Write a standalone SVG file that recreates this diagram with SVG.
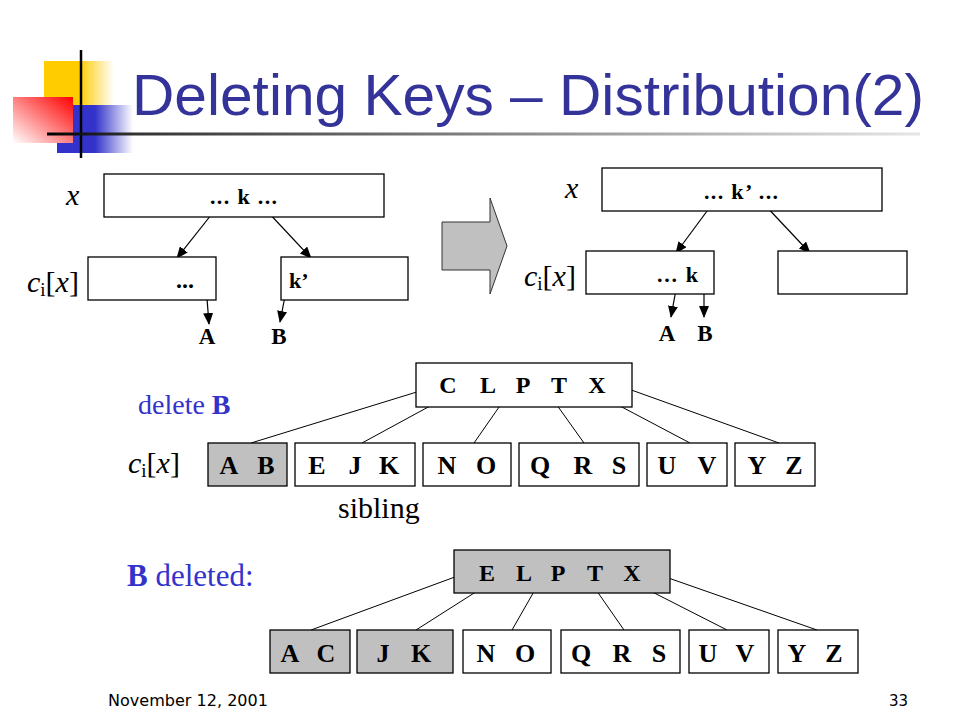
<svg xmlns="http://www.w3.org/2000/svg" width="960" height="720" viewBox="0 0 960 720">
<defs>
<linearGradient id="gY" x1="0" y1="0" x2="1" y2="0"><stop offset="0" stop-color="#FFCC00"/><stop offset="0.5" stop-color="#FFCC00"/><stop offset="1" stop-color="#FFFFFF"/></linearGradient>
<linearGradient id="gB" x1="0" y1="0" x2="1" y2="0"><stop offset="0" stop-color="#3333CC"/><stop offset="0.5" stop-color="#3333CC"/><stop offset="1" stop-color="#FFFFFF"/></linearGradient>
<linearGradient id="gR" x1="1" y1="0" x2="0" y2="1"><stop offset="0" stop-color="#FF0000"/><stop offset="1" stop-color="#FFFFFF"/></linearGradient>
<linearGradient id="gL" gradientUnits="userSpaceOnUse" x1="47" y1="0" x2="920" y2="0"><stop offset="0" stop-color="#000000"/><stop offset="0.1" stop-color="#333333"/><stop offset="1" stop-color="#E6E6E6"/></linearGradient>
<marker id="ah" markerUnits="userSpaceOnUse" markerWidth="12" markerHeight="10" refX="11" refY="5" orient="auto"><path d="M0,0 L12,5 L0,10 z" fill="#000"/></marker>
</defs>
<style>
.box{fill:#fff;stroke:#000;stroke-width:1.3}
.gbox{fill:#C0C0C0;stroke:#000;stroke-width:1.3}
.arr{stroke:#000;stroke-width:1.2;fill:none;marker-end:url(#ah)}
.ln{stroke:#000;stroke-width:1;fill:none}
.tb{font-family:"Liberation Serif","DejaVu Serif",serif;font-weight:bold;fill:#000}
.key{font-family:"Liberation Serif","DejaVu Serif",serif;font-weight:bold;font-size:26px;text-anchor:middle;fill:#000}
.pkey{font-family:"Liberation Serif","DejaVu Serif",serif;font-weight:bold;font-size:24px;text-anchor:middle;fill:#000}
.lab{font-family:"Liberation Serif","DejaVu Serif",serif;font-size:30px;fill:#000}
.it{font-family:"Liberation Serif","DejaVu Serif",serif;font-style:italic}
.blue{font-family:"Liberation Serif","DejaVu Serif",serif;fill:#3333CC}
</style>
<rect width="960" height="720" fill="#fff"/>
<g id="decoration">
<rect x="44" y="61" width="70" height="48" fill="url(#gY)"/>
<rect x="57" y="105" width="76" height="48" fill="url(#gB)"/>
<rect x="13" y="97" width="60" height="46" fill="url(#gR)"/>
<line x1="81" y1="50" x2="81" y2="158" stroke="#000" stroke-width="2.5"/>
<rect x="47" y="132.5" width="873" height="3" fill="url(#gL)"/>
</g>
<text id="title" x="132" y="115" font-family="Liberation Sans, Arial, sans-serif" font-size="58" fill="#333399" textLength="792" lengthAdjust="spacingAndGlyphs">Deleting Keys – Distribution(2)</text>

<g id="connectors">
<line class="arr" x1="215" y1="210" x2="177" y2="258"/>
<line class="arr" x1="266" y1="210" x2="311" y2="258"/>
<line class="arr" x1="206" y1="286" x2="209" y2="324"/>
<line class="arr" x1="287" y1="286" x2="280" y2="322"/>
<line class="arr" x1="713" y1="203" x2="676" y2="253"/>
<line class="arr" x1="763" y1="203" x2="810" y2="253"/>
<line class="arr" x1="677" y1="284" x2="671" y2="317"/>
<line class="arr" x1="704" y1="281" x2="704" y2="317"/>
<line class="ln" x1="433" y1="387" x2="251" y2="443"/>
<line class="ln" x1="465" y1="387" x2="362" y2="443"/>
<line class="ln" x1="513" y1="387" x2="474" y2="443"/>
<line class="ln" x1="544" y1="387" x2="584" y2="443"/>
<line class="ln" x1="584" y1="387" x2="690" y2="443"/>
<line class="ln" x1="623" y1="387" x2="779" y2="443"/>
<line class="ln" x1="463" y1="574" x2="311" y2="630"/>
<line class="ln" x1="504" y1="574" x2="416" y2="630"/>
<line class="ln" x1="544" y1="574" x2="512" y2="630"/>
<line class="ln" x1="585" y1="574" x2="624" y2="630"/>
<line class="ln" x1="617" y1="574" x2="727" y2="630"/>
<line class="ln" x1="657" y1="574" x2="817" y2="630"/>
</g>

<g id="before">
<text class="lab it" x="66" y="205">x</text>
<g id="b-x"><rect class="box" x="104" y="174" width="280" height="43"/><text class="tb" x="210" y="204" font-size="22" textLength="67" lengthAdjust="spacing">... k ...</text></g>
<text class="lab" x="27" y="292"><tspan class="it">c</tspan><tspan font-size="19" dy="4">i</tspan><tspan dy="-4">[</tspan><tspan class="it">x</tspan>]</text>
<g id="b-ci"><rect class="box" x="88" y="257" width="128" height="43"/><text class="tb" x="176" y="288" font-size="24">...</text></g>
<g id="b-sib"><rect class="box" x="281" y="257" width="127" height="43"/><text class="tb" x="289" y="288" font-size="22">k’</text></g>
<text class="tb" x="207" y="344" font-size="23" text-anchor="middle">A</text>
<text class="tb" x="279" y="344" font-size="23" text-anchor="middle">B</text>
</g>

<polygon id="bigarrow" points="442,222 490,222 490,198 507,246 490,294 490,270 442,270" fill="#C0C0C0" stroke="#333" stroke-width="1"/>

<g id="after">
<text class="lab it" x="565" y="198">x</text>
<g id="a-x"><rect class="box" x="602" y="168" width="280" height="43"/><text class="tb" x="704" y="199" font-size="22" textLength="74" lengthAdjust="spacing">... k’ ...</text></g>
<text class="lab" x="524" y="286"><tspan class="it">c</tspan><tspan font-size="19" dy="4">i</tspan><tspan dy="-4">[</tspan><tspan class="it">x</tspan>]</text>
<g id="a-ci"><rect class="box" x="586" y="251" width="128" height="43"/><text class="tb" x="657" y="282" font-size="22" textLength="41" lengthAdjust="spacing">... k</text></g>
<g id="a-sib"><rect class="box" x="778" y="251" width="129" height="43"/></g>
<text class="tb" x="667" y="341" font-size="23" text-anchor="middle">A</text>
<text class="tb" x="705" y="341" font-size="23" text-anchor="middle">B</text>
</g>

<g id="delete">
<text class="blue" x="138" y="414" font-size="28">delete <tspan font-weight="bold">B</tspan></text>
<text class="lab" x="128" y="473"><tspan class="it">c</tspan><tspan font-size="19" dy="4">i</tspan><tspan dy="-4">[</tspan><tspan class="it">x</tspan>]</text>
<text class="lab" x="338" y="518">sibling</text>
<g id="m-root"><rect class="box" x="416" y="363" width="216" height="44"/><text class="pkey" x="448 468 488 505 523 541 559 578 597" y="393">C L P T X</text></g>
<g id="m-ab"><rect class="gbox" x="208" y="443" width="79" height="43"/><text class="key" x="229 248 266" y="474">A B</text></g>
<g id="m-ejk"><rect class="box" x="295" y="443" width="120" height="43"/><text class="key" x="317 336 355 372 389" y="474">E J K</text></g>
<g id="m-no"><rect class="box" x="423" y="443" width="88" height="43"/><text class="key" x="447 466 486" y="474">N O</text></g>
<g id="m-qrs"><rect class="box" x="519" y="443" width="120" height="43"/><text class="key" x="540 561 583 601 619" y="474">Q R S</text></g>
<g id="m-uv"><rect class="box" x="647" y="443" width="80" height="43"/><text class="key" x="667 687 707" y="474">U V</text></g>
<g id="m-yz"><rect class="box" x="735" y="443" width="80" height="43"/><text class="key" x="757 775 794" y="474">Y Z</text></g>
</g>

<g id="deleted">
<text class="blue" x="127" y="586" font-size="31"><tspan font-weight="bold">B</tspan> deleted:</text>
<g id="d-root"><rect class="gbox" x="454" y="550" width="216" height="43"/><text class="pkey" x="487 505 524 541 558 576 595 613 632" y="581">E L P T X</text></g>
<g id="d-ac"><rect class="gbox" x="270" y="630" width="80" height="43"/><text class="key" x="290 308 326" y="662">A C</text></g>
<g id="d-jk"><rect class="gbox" x="357" y="630" width="96" height="43"/><text class="key" x="383 402 421" y="662">J K</text></g>
<g id="d-no"><rect class="box" x="463" y="630" width="88" height="43"/><text class="key" x="486 505 525" y="662">N O</text></g>
<g id="d-qrs"><rect class="box" x="561" y="630" width="119" height="43"/><text class="key" x="581 601 622 640 659" y="662">Q R S</text></g>
<g id="d-uv"><rect class="box" x="689" y="630" width="80" height="43"/><text class="key" x="708 726 745" y="662">U V</text></g>
<g id="d-yz"><rect class="box" x="778" y="630" width="80" height="43"/><text class="key" x="797 815 834" y="662">Y Z</text></g>
</g>

<g id="footer">
<text x="108" y="706" font-family="DejaVu Sans, sans-serif" font-size="15" fill="#000" textLength="160" lengthAdjust="spacingAndGlyphs">November 12, 2001</text>
<text x="908" y="706" font-family="DejaVu Sans, sans-serif" font-size="15" fill="#000" text-anchor="end">33</text>
</g>
</svg>
